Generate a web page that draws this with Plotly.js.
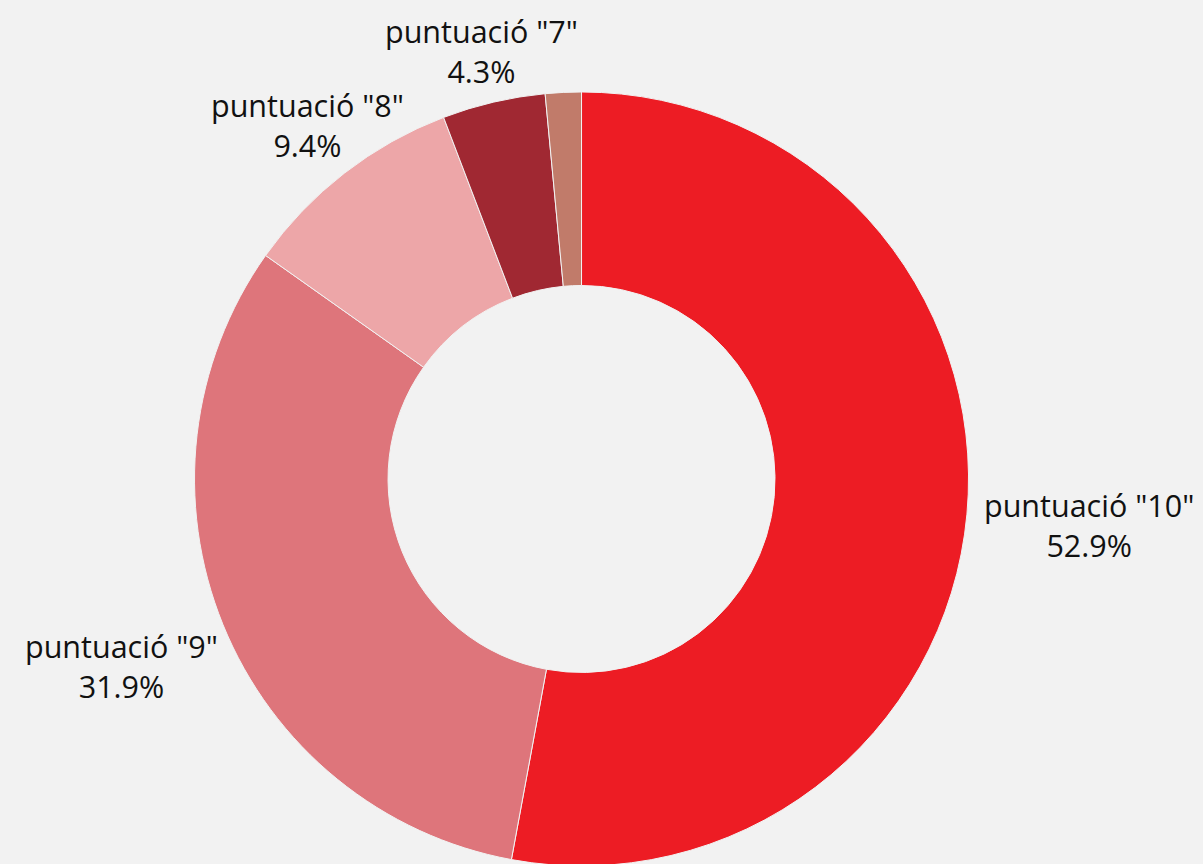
<!DOCTYPE html>
<html>
<head>
<meta charset="utf-8">
<script src="https://cdn.plot.ly/plotly-3.0.1.min.js"></script>
<style>html,body{margin:0;padding:0;background:#F2F2F2;overflow:hidden;}#chart{width:1203px;height:880px;}</style>
</head>
<body>
<div id="chart"></div>
<script>
const labels = ['puntuació "10"', 'puntuació "9"', 'puntuació "8"', 'puntuació "7"', 'puntuació "6"'];
const values = [52.9, 31.9, 9.4, 4.3, 1.5];
const colors = ['#ED1C24', '#DE757B', '#EDA6A8', '#A02832', '#C17B6A'];
const showText = [true, true, true, true, false];

const W = 1203, H = 880;
const FONT_FAMILY = '"Open Sans", "Noto Sans", sans-serif';
const FONT_SIZE = 30.5;
const domX = [0.1617, 0.8051];
const domY = [0.0159, 0.8955];
const HOLE = 0.5;

const trace = {
  type: 'pie',
  labels: labels,
  values: values,
  hole: HOLE,
  sort: false,
  direction: 'clockwise',
  rotation: 0,
  marker: {colors: colors, line: {color: '#F2F2F2', width: 1}},
  textinfo: 'none',
  hoverinfo: 'label+percent',
  showlegend: false,
  automargin: false,
  domain: {x: domX, y: domY}
};

// outside labels, placed radially from each slice's mid-angle
const total = values.reduce((a, b) => a + b, 0);
const cx = W * (domX[0] + domX[1]) / 2;
const cy = H - H * (domY[0] + domY[1]) / 2;
const R = Math.min(W * (domX[1] - domX[0]), H * (domY[1] - domY[0])) / 2;
const ctx = document.createElement('canvas').getContext('2d');
ctx.font = FONT_SIZE + 'px ' + FONT_FAMILY;
const PAD = 16.5, HALF_H = 35;

const annotations = [];
let cum = 0;
values.forEach((v, i) => {
  const mid = (cum + v / 2) / total;
  cum += v;
  if (!showText[i]) return;
  const pct = (v / total * 100).toFixed(1) + '%';
  const th = 2 * Math.PI * mid;
  const ux = Math.sin(th), uy = -Math.cos(th);
  const hw = Math.max(ctx.measureText(labels[i]).width, ctx.measureText(pct).width) / 2;
  const d = Math.min(Math.abs(ux) > 1e-6 ? hw / Math.abs(ux) : 1e9,
                     Math.abs(uy) > 1e-6 ? HALF_H / Math.abs(uy) : 1e9);
  const dist = R + PAD + d;
  const bx = cx + ux * dist, by = cy + uy * dist;
  annotations.push({
    xref: 'paper', yref: 'paper',
    x: bx / W, y: 1 - by / H,
    xanchor: 'center', yanchor: 'middle',
    align: 'center',
    showarrow: false,
    text: labels[i] + '<br>' + pct,
    font: {family: FONT_FAMILY, size: FONT_SIZE, color: '#111111'}
  });
});

const layout = {
  width: W,
  height: H,
  margin: {l: 0, r: 0, t: 0, b: 0},
  paper_bgcolor: '#F2F2F2',
  plot_bgcolor: '#F2F2F2',
  showlegend: false,
  annotations: annotations
};

Plotly.newPlot('chart', [trace], layout, {displayModeBar: false, staticPlot: true});
</script>
</body>
</html>
